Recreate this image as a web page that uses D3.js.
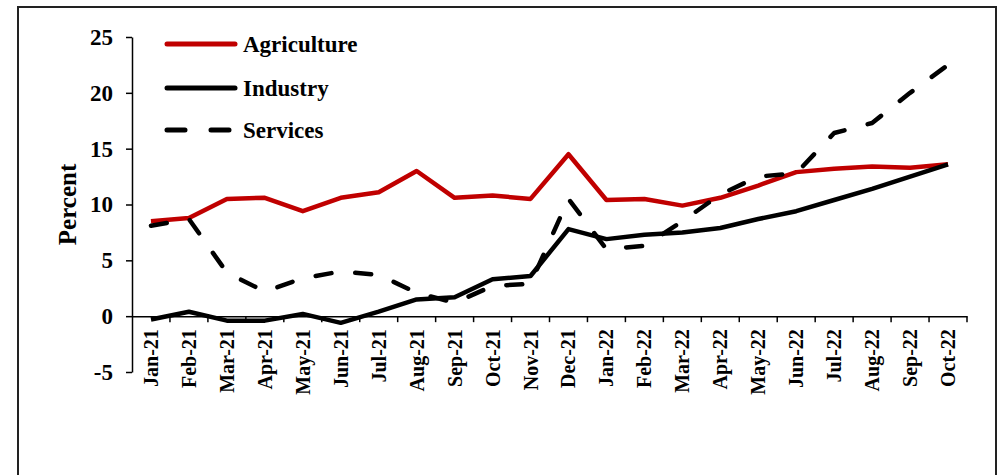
<!DOCTYPE html>
<html><head><meta charset="utf-8">
<script src="https://cdn.jsdelivr.net/npm/d3@7"></script>
<style>
html,body{margin:0;padding:0;background:#fff;}
text{font-family:"Liberation Serif","Times New Roman",serif;font-weight:bold;fill:#000;}
</style></head>
<body><svg id="c" width="1007" height="475"></svg>
<script>
const months = ["Jan-21","Feb-21","Mar-21","Apr-21","May-21","Jun-21","Jul-21","Aug-21","Sep-21","Oct-21","Nov-21","Dec-21","Jan-22","Feb-22","Mar-22","Apr-22","May-22","Jun-22","Jul-22","Aug-22","Sep-22","Oct-22"];
const agriculture = [8.5,8.8,10.5,10.6,9.4,10.6,11.1,13.0,10.6,10.8,10.5,14.5,10.4,10.5,9.9,10.6,11.7,12.9,13.2,13.4,13.3,13.6];
const industry = [-0.3,0.4,-0.4,-0.4,0.2,-0.6,0.4,1.5,1.7,3.3,3.6,7.8,6.9,7.3,7.5,7.9,8.7,9.4,10.4,11.4,12.5,13.6];
const services = [8.1,8.7,3.9,2.2,3.4,4.0,3.7,2.1,1.2,2.7,2.9,10.5,6.0,6.3,8.5,10.9,12.5,12.8,16.4,17.3,20.0,22.5];
const yTicks = [-5,0,5,10,15,20,25];
const seriesNames = ["Agriculture","Industry","Services"];

const svg = d3.select("#c");
svg.append("rect").attr("x",18).attr("y",7).attr("width",978).attr("height",480)
  .attr("fill","none").attr("stroke","#222").attr("stroke-width",2);

const x = d3.scaleBand().domain(months).range([132,967]);
const y = d3.scaleLinear().domain([-5,25]).range([372,37]);

// y axis
const ya = svg.append("g").attr("transform","translate(132,0)")
  .call(d3.axisLeft(y).tickValues(yTicks).tickFormat(d=>String(d)).tickSize(6).tickSizeOuter(0).tickPadding(13));
ya.select(".domain").attr("stroke","#000").attr("stroke-width",1.5);
ya.selectAll(".tick line").attr("stroke","#000").attr("stroke-width",1.5);
ya.selectAll("text").attr("font-size",23).style("font-family","Liberation Serif").style("font-weight","bold");

// x axis at zero
const xa = svg.append("g").attr("transform",`translate(0,${y(0)})`)
  .call(d3.axisBottom(x).tickSize(0).tickSizeOuter(0));
xa.select(".domain").attr("stroke","#000").attr("stroke-width",1.5);
xa.selectAll(".tick line").remove();
xa.selectAll(".tick text").attr("font-size",20).style("font-family","Liberation Serif").style("font-weight","bold")
  .attr("transform","rotate(-90)").attr("text-anchor","end").attr("x",-13).attr("y",0).attr("dy","0.35em");
// tick marks between categories
const bounds = months.map(m=>x(m)+x.bandwidth());
svg.append("g").selectAll("line").data(bounds).join("line")
  .attr("x1",d=>d).attr("x2",d=>d).attr("y1",y(0)).attr("y2",y(0)+6)
  .attr("stroke","#000").attr("stroke-width",1.5);

svg.append("text").attr("transform",`translate(76,${(162+247)/2}) rotate(-90)`)
  .attr("text-anchor","middle").attr("font-size",25).text("Percent");

const line = d3.line().x((d,i)=>x(months[i])+x.bandwidth()/2).y(d=>y(d));
const styles = [
  {data:agriculture,color:"#c00000",dash:null},
  {data:industry,color:"#000",dash:null},
  {data:services,color:"#000",dash:"16,24"}
];
styles.forEach(s=>{
  svg.append("path").datum(s.data).attr("d",line).attr("fill","none")
    .attr("stroke",s.color).attr("stroke-width",4.5).attr("stroke-linejoin","round")
    .attr("stroke-linecap", s.dash?"round":"butt")
    .attr("stroke-dasharray",s.dash);
});

// legend
const ly = [44,88,130];
styles.forEach((s,i)=>{
  svg.append("line").attr("x1",167).attr("x2",235).attr("y1",ly[i]).attr("y2",ly[i])
    .attr("stroke",s.color).attr("stroke-width",5).attr("stroke-linecap","round")
    .attr("stroke-dasharray",s.dash?"18,26":null);
  svg.append("text").attr("x",243).attr("y",ly[i]).attr("dy","0.35em")
    .attr("font-size",23).text(seriesNames[i]);
});
</script></body></html>
